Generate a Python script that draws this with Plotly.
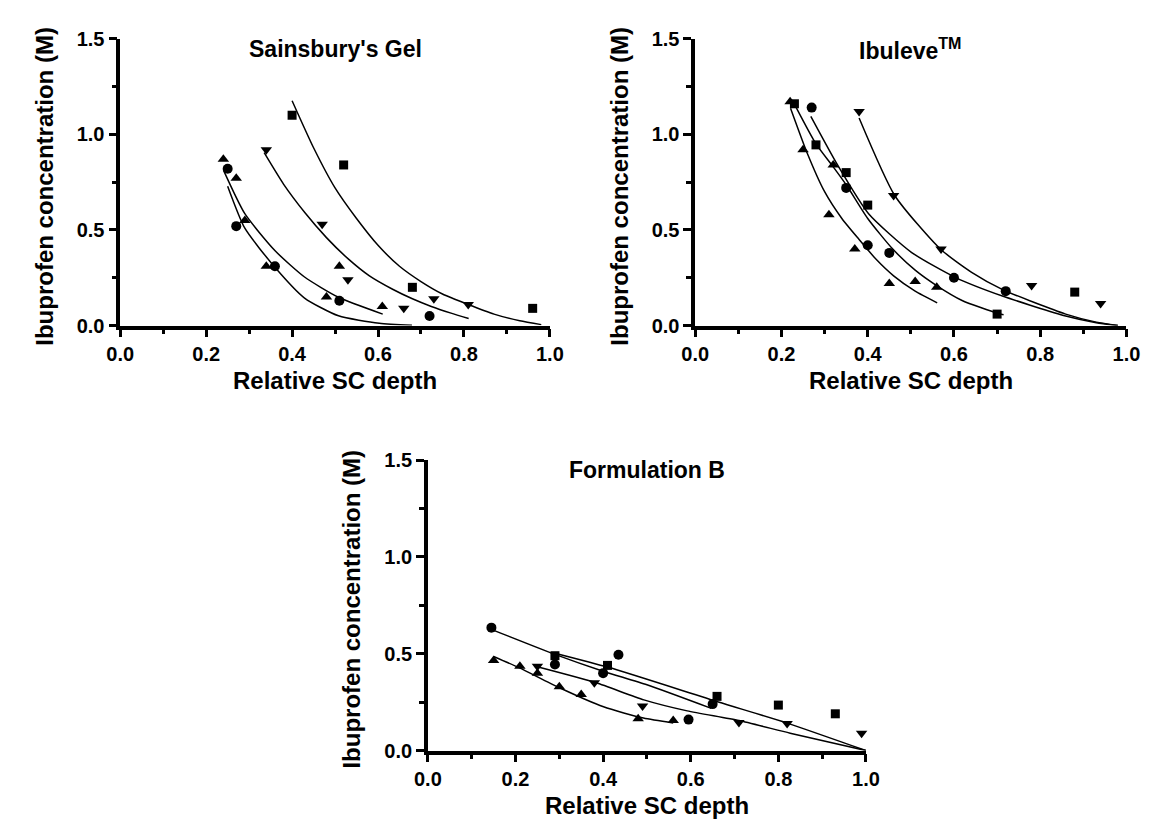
import plotly.graph_objects as go

# ---------------- data ----------------
panel_titles = ["Sainsbury's Gel", "Ibuleve<sup>TM</sup>", "Formulation B"]
x_title = "Relative SC depth"
y_title = "Ibuprofen concentration (M)"
x_ticks = [0.0, 0.2, 0.4, 0.6, 0.8, 1.0]
x_tick_labels = ["0.0", "0.2", "0.4", "0.6", "0.8", "1.0"]
y_ticks = [0.0, 0.5, 1.0, 1.5]
y_tick_labels = ["0.0", "0.5", "1.0", "1.5"]

# Panel 1: Sainsbury's Gel
p1_sq_x = [0.40, 0.52, 0.68, 0.96]
p1_sq_y = [1.10, 0.84, 0.20, 0.09]
p1_ci_x = [0.25, 0.27, 0.36, 0.51, 0.72]
p1_ci_y = [0.82, 0.52, 0.31, 0.13, 0.05]
p1_tu_x = [0.24, 0.27, 0.29, 0.34, 0.48, 0.51, 0.61]
p1_tu_y = [0.87, 0.77, 0.55, 0.31, 0.15, 0.31, 0.10]
p1_td_x = [0.34, 0.47, 0.53, 0.66, 0.73, 0.81]
p1_td_y = [0.92, 0.53, 0.24, 0.09, 0.14, 0.11]

p1_fitA_x = [0.40, 0.45, 0.50, 0.55, 0.60, 0.65, 0.70, 0.75, 0.81, 0.87, 0.93, 0.98]
p1_fitA_y = [1.176, 0.93, 0.72, 0.56, 0.42, 0.31, 0.23, 0.165, 0.11, 0.06, 0.025, 0.005]
p1_fitB_x = [0.335, 0.38, 0.43, 0.48, 0.53, 0.58, 0.634, 0.68, 0.724, 0.77, 0.811]
p1_fitB_y = [0.904, 0.74, 0.59, 0.46, 0.35, 0.26, 0.19, 0.14, 0.10, 0.065, 0.037]
p1_fitC_x = [0.241, 0.29, 0.361, 0.429, 0.508, 0.611]
p1_fitC_y = [0.809, 0.585, 0.39, 0.254, 0.148, 0.06]
p1_fitD_x = [0.25, 0.29, 0.36, 0.429, 0.508, 0.603, 0.679]
p1_fitD_y = [0.729, 0.509, 0.305, 0.144, 0.051, 0.012, 0.002]

# Panel 2: Ibuleve
p2_sq_x = [0.23, 0.28, 0.35, 0.40, 0.70, 0.88]
p2_sq_y = [1.16, 0.945, 0.80, 0.63, 0.06, 0.175]
p2_ci_x = [0.27, 0.35, 0.40, 0.45, 0.60, 0.72]
p2_ci_y = [1.14, 0.72, 0.42, 0.38, 0.25, 0.18]
p2_tu_x = [0.22, 0.25, 0.32, 0.31, 0.37, 0.45, 0.51, 0.56]
p2_tu_y = [1.17, 0.92, 0.84, 0.58, 0.40, 0.22, 0.23, 0.20]
p2_td_x = [0.38, 0.46, 0.57, 0.78, 0.94]
p2_td_y = [1.12, 0.68, 0.40, 0.21, 0.115]

p2_fitA_x = [0.221, 0.26, 0.30, 0.34, 0.38, 0.42, 0.46, 0.51, 0.561]
p2_fitA_y = [1.137, 0.90, 0.70, 0.56, 0.45, 0.345, 0.26, 0.18, 0.119]
p2_fitB_x = [0.233, 0.28, 0.32, 0.352, 0.40, 0.458, 0.51, 0.558, 0.62, 0.70, 0.715]
p2_fitB_y = [1.145, 0.95, 0.83, 0.73, 0.56, 0.40, 0.29, 0.212, 0.13, 0.065, 0.057]
p2_fitC_x = [0.268, 0.33, 0.402, 0.502, 0.604, 0.714, 0.859, 0.93, 0.98]
p2_fitC_y = [1.094, 0.84, 0.585, 0.382, 0.251, 0.153, 0.05, 0.015, 0.0]
p2_fitD_x = [0.38, 0.463, 0.569, 0.64, 0.714, 0.859, 0.93, 0.98]
p2_fitD_y = [1.086, 0.679, 0.399, 0.28, 0.187, 0.06, 0.018, 0.0]

# Panel 3: Formulation B
p3_sq_x = [0.29, 0.41, 0.66, 0.80, 0.93]
p3_sq_y = [0.49, 0.44, 0.28, 0.235, 0.19]
p3_ci_x = [0.145, 0.29, 0.40, 0.435, 0.595, 0.65]
p3_ci_y = [0.635, 0.445, 0.40, 0.495, 0.16, 0.24]
p3_tu_x = [0.15, 0.21, 0.25, 0.30, 0.35, 0.48, 0.56]
p3_tu_y = [0.465, 0.435, 0.40, 0.33, 0.29, 0.165, 0.155]
p3_td_x = [0.25, 0.38, 0.49, 0.71, 0.82, 0.99]
p3_td_y = [0.435, 0.35, 0.23, 0.145, 0.14, 0.09]

p3_fitA_x = [0.29, 0.412, 0.663, 0.82, 1.0]
p3_fitA_y = [0.503, 0.43, 0.251, 0.142, 0.0]
p3_fitB_x = [0.146, 0.29, 0.40, 0.50, 0.647]
p3_fitB_y = [0.625, 0.497, 0.41, 0.34, 0.218]
p3_fitC_x = [0.254, 0.384, 0.493, 0.592, 0.71, 0.827, 1.0]
p3_fitC_y = [0.43, 0.35, 0.262, 0.205, 0.155, 0.09, 0.0]
p3_fitD_x = [0.15, 0.209, 0.298, 0.401, 0.492, 0.56]
p3_fitD_y = [0.486, 0.427, 0.327, 0.226, 0.168, 0.143]

# ---------------- layout geometry ----------------
W, H = 1152, 822
FONT = "Liberation Sans, Arial, sans-serif"

# plot-area pixel boxes (left, right, top, bottom)
boxes = [(100.7, 541.0, 20.3, 315.0),
         (690.0, 1132.0, 20.3, 315.0),
         (416.0, 865.0, 453.3, 751.7)]

panels = [
    dict(markers=[(p1_sq_x, p1_sq_y, "square"), (p1_ci_x, p1_ci_y, "circle"),
                  (p1_tu_x, p1_tu_y, "triangle-up"), (p1_td_x, p1_td_y, "triangle-down")],
         fits=[(p1_fitA_x, p1_fitA_y), (p1_fitB_x, p1_fitB_y),
               (p1_fitC_x, p1_fitC_y), (p1_fitD_x, p1_fitD_y)]),
    dict(markers=[(p2_sq_x, p2_sq_y, "square"), (p2_ci_x, p2_ci_y, "circle"),
                  (p2_tu_x, p2_tu_y, "triangle-up"), (p2_td_x, p2_td_y, "triangle-down")],
         fits=[(p2_fitA_x, p2_fitA_y), (p2_fitB_x, p2_fitB_y),
               (p2_fitC_x, p2_fitC_y), (p2_fitD_x, p2_fitD_y)]),
    dict(markers=[(p3_sq_x, p3_sq_y, "square"), (p3_ci_x, p3_ci_y, "circle"),
                  (p3_tu_x, p3_tu_y, "triangle-up"), (p3_td_x, p3_td_y, "triangle-down")],
         fits=[(p3_fitA_x, p3_fitA_y), (p3_fitB_x, p3_fitB_y),
               (p3_fitC_x, p3_fitC_y), (p3_fitD_x, p3_fitD_y)]),
]

fig = go.Figure()
layout = dict(width=W, height=H, margin=dict(l=0, r=0, t=0, b=0),
              paper_bgcolor="white", plot_bgcolor="white",
              showlegend=False, annotations=[])

marker_sizes = {"square": 9, "circle": 10, "triangle-up": 10, "triangle-down": 10}

for i, (panel, box) in enumerate(zip(panels, boxes)):
    n = "" if i == 0 else str(i + 1)
    xa, ya = "x" + n, "y" + n
    for fx, fy in panel["fits"]:
        fig.add_trace(go.Scatter(x=fx, y=fy, mode="lines", xaxis=xa, yaxis=ya,
                                 line=dict(color="black", width=1.5, shape="spline", smoothing=0.6),
                                 hoverinfo="skip", cliponaxis=False))
    for mx, my, sym in panel["markers"]:
        fig.add_trace(go.Scatter(x=mx, y=my, mode="markers", xaxis=xa, yaxis=ya,
                                 marker=dict(symbol=sym, size=marker_sizes[sym], color="black"),
                                 cliponaxis=False))
    l, r, t, b = box
    common = dict(showline=True, linewidth=3.5, linecolor="black", ticks="outside",
                  ticklen=8, tickwidth=2.5, tickcolor="black", showgrid=False, zeroline=False,
                  tickfont=dict(family=FONT, size=20, color="black", weight="bold"),
                  fixedrange=True)
    layout["xaxis" + n] = dict(common, domain=[l / W, r / W], range=[0, 1],
                               tickvals=x_ticks,
                               ticktext=["<b>%s</b>" % s for s in x_tick_labels],
                               anchor=ya,
                               minor=dict(dtick=0.1, tick0=0, ticks="outside", ticklen=5,
                                          tickwidth=2.5, tickcolor="black", showgrid=False))
    layout["yaxis" + n] = dict(common, domain=[1 - b / H, 1 - t / H], range=[0, 1.5],
                               tickvals=y_ticks,
                               ticktext=["<b>%s</b>" % s for s in y_tick_labels],
                               anchor=xa,
                               minor=dict(dtick=0.25, tick0=0, ticks="outside", ticklen=5,
                                          tickwidth=2.5, tickcolor="black", showgrid=False))
    cx = (l + r) / 2
    # panel title
    layout["annotations"].append(dict(
        text="<b>%s</b>" % panel_titles[i], x=cx / W, y=1 - (t + 10.5) / H,
        xref="paper", yref="paper", xanchor="center", yanchor="middle", showarrow=False,
        font=dict(family=FONT, size=23, color="black")))
    # x-axis title
    layout["annotations"].append(dict(
        text="<b>%s</b>" % x_title, x=cx / W, y=1 - (b + 56) / H,
        xref="paper", yref="paper", xanchor="center", yanchor="middle", showarrow=False,
        font=dict(family=FONT, size=24, color="black")))
    # y-axis title
    layout["annotations"].append(dict(
        text="<b>%s</b>" % y_title, x=(l - 78.5) / W, y=1 - ((t + b) / 2 + 4) / H,
        xref="paper", yref="paper", xanchor="center", yanchor="middle", showarrow=False,
        textangle=-90, font=dict(family=FONT, size=24, color="black")))

fig.update_layout(**layout)
fig.write_html("out.html")
